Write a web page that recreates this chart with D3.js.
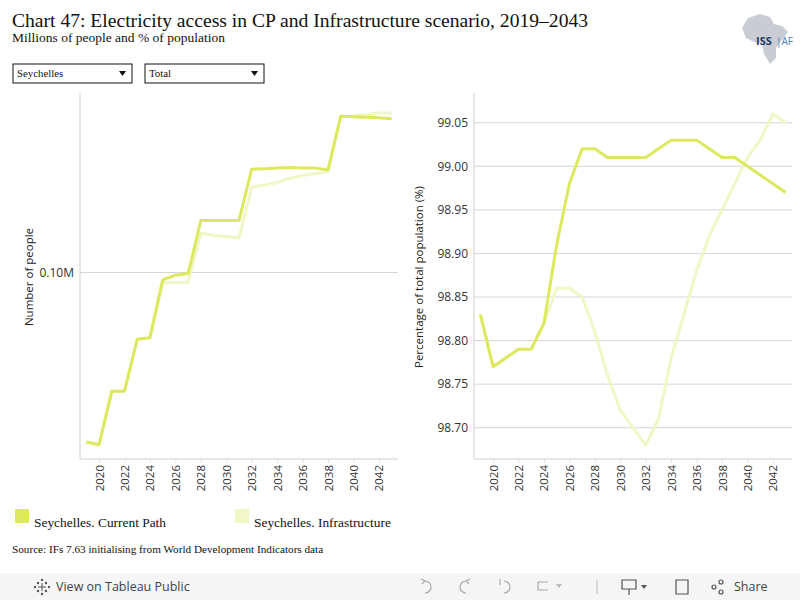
<!DOCTYPE html>
<html>
<head>
<meta charset="utf-8">
<script src="https://cdn.jsdelivr.net/npm/d3@7"></script>
<style>
  body { margin: 0; background: #fff; }
  svg { display: block; }
</style>
</head>
<body>
<svg id="chart" width="800" height="600"></svg>
<script>
// years and series
var years = d3.range(2019, 2044);
var yearTicks = [2020, 2022, 2024, 2026, 2028, 2030, 2032, 2034, 2036, 2038, 2040, 2042];

// number of people with electricity (millions)
var peopleCP = [0.09680, 0.09675, 0.09776, 0.09776, 0.09874, 0.09877, 0.09986, 0.09995, 0.09998,
    0.10098, 0.10098, 0.10098, 0.10098, 0.10195, 0.10196, 0.10197, 0.10198, 0.10197, 0.10197,
    0.10194, 0.10295, 0.10294, 0.10293, 0.10292, 0.10290];
var peopleInfra = [0.09680, 0.09675, 0.09776, 0.09776, 0.09874, 0.09877, 0.09981, 0.09981, 0.09981,
    0.10074, 0.10070, 0.10068, 0.10065, 0.10161, 0.10165, 0.10170, 0.10178, 0.10183, 0.10187,
    0.10190, 0.10295, 0.10296, 0.10298, 0.10301, 0.10301];

// percentage of total population
var pctCP = [98.83, 98.77, 98.78, 98.79, 98.79, 98.82, 98.91, 98.98, 99.02, 99.02, 99.01, 99.01,
    99.01, 99.01, 99.02, 99.03, 99.03, 99.03, 99.02, 99.01, 99.01, 99.00, 98.99, 98.98, 98.97];
var pctInfra = [98.83, 98.77, 98.78, 98.79, 98.79, 98.82, 98.86, 98.86, 98.85, 98.81, 98.76, 98.72,
    98.70, 98.68, 98.71, 98.78, 98.83, 98.88, 98.92, 98.95, 98.98, 99.01, 99.03, 99.06, 99.05];
var pctTicks = [98.70, 98.75, 98.80, 98.85, 98.90, 98.95, 99.00, 99.05];

var seriesNames = ['Seychelles. Current Path', 'Seychelles. Infrastructure'];
var CP_COLOR = '#dee85e';
var INFRA_COLOR = '#f1f6c6';
var GRID = '#d6d6d6';
var SERIF = '"Liberation Serif", "Times New Roman", serif';
var SANS = '"Open Sans", "Noto Sans", sans-serif';

var svg = d3.select('#chart');

// ---- header ----
svg.append('text').attr('x', 12).attr('y', 27)
    .style('font-family', SERIF).style('font-size', '19.6px').attr('fill', '#111')
    .text('Chart 47: Electricity access in CP and Infrastructure scenario, 2019\u20132043');
svg.append('text').attr('x', 12).attr('y', 42)
    .style('font-family', SERIF).style('font-size', '13.5px').attr('fill', '#111')
    .text('Millions of people and % of population');

// logo (rough)
var logo = svg.append('g').attr('transform', 'translate(740,14)');
logo.append('path')
    .attr('d', 'M8,4 L20,0 L30,3 L34,10 L42,12 L48,18 L42,26 L36,34 L36,44 L30,50 L24,40 L22,30 L14,28 L6,24 L2,14 Z')
    .attr('fill', '#c9ccd2');
logo.append('text').attr('x', 16).attr('y', 31)
    .style('font-family', SANS).style('font-size', '11px').style('font-weight', 'bold')
    .attr('fill', '#1e3a6e').text('ISS');
logo.append('text').attr('x', 36).attr('y', 31)
    .style('font-family', SANS).style('font-size', '10px').attr('fill', '#4a7fc0').text('|AF');

// dropdowns
[['Seychelles', 13], ['Total', 145]].forEach(function (d) {
    var g = svg.append('g').attr('transform', 'translate(' + d[1] + ',64)');
    g.append('rect').attr('width', 119).attr('height', 19).attr('fill', '#fff')
        .attr('stroke', '#111').attr('stroke-width', 1);
    g.append('text').attr('x', 4).attr('y', 13)
        .style('font-family', SERIF).style('font-size', '10.8px').attr('fill', '#111').text(d[0]);
    g.append('path').attr('d', 'M106,7 L113,7 L109.5,12 Z').attr('fill', '#111');
});

// ---- panels ----
var plotTop = 95, plotBottom = 459;

function panel(opts) {
    var x = d3.scalePoint().domain(years).range([opts.x0, opts.x1]).padding(0.5);
    var y = d3.scaleLinear().domain(opts.domain).range([plotBottom, plotTop]);
    var g = svg.append('g');

    // gridlines
    g.selectAll('line.grid').data(opts.ticks).enter().append('line')
        .attr('x1', opts.x0).attr('x2', opts.x1)
        .attr('y1', function (d) { return y(d); }).attr('y2', function (d) { return y(d); })
        .attr('stroke', GRID).attr('stroke-width', 1);

    // axes
    var yAxis = d3.axisLeft(y).tickValues(opts.ticks).tickSize(0).tickPadding(6).tickFormat(opts.fmt);
    var ya = g.append('g').attr('transform', 'translate(' + opts.x0 + ',0)').call(yAxis);
    ya.select('.domain').remove();
    ya.selectAll('text').style('font-family', SANS).style('font-size', '12px').attr('fill', '#333');

    var xAxis = d3.axisBottom(x).tickValues(yearTicks).tickSize(4).tickPadding(4);
    var xa = g.append('g').attr('transform', 'translate(0,' + plotBottom + ')').call(xAxis);
    xa.select('.domain').remove();
    xa.selectAll('line').attr('stroke', '#e2e2e2');
    xa.selectAll('text')
        .attr('transform', 'rotate(-90)').attr('text-anchor', 'end')
        .attr('x', -6).attr('y', 0).attr('dy', '0.35em')
        .style('font-family', SANS).style('font-size', '11.5px').attr('fill', '#333');

    g.append('line').attr('x1', opts.x0).attr('x2', opts.x0).attr('y1', plotTop - 2).attr('y2', plotBottom)
        .attr('stroke', '#cfcfcf');
    g.append('line').attr('x1', opts.x0).attr('x2', opts.x1).attr('y1', plotBottom).attr('y2', plotBottom)
        .attr('stroke', '#cfcfcf');

    // axis title
    g.append('text')
        .attr('transform', 'translate(' + opts.titleX + ',' + ((plotTop + plotBottom) / 2) + ') rotate(-90)')
        .attr('text-anchor', 'middle')
        .style('font-family', SANS).style('font-size', '11.5px').attr('fill', '#222')
        .text(opts.title);

    var line = d3.line()
        .x(function (d, i) { return x(years[i]); })
        .y(function (d) { return y(d); });

    [[opts.infra, INFRA_COLOR], [opts.cp, CP_COLOR]].forEach(function (s) {
        g.append('path').datum(s[0]).attr('d', line)
            .attr('fill', 'none').attr('stroke', s[1]).attr('stroke-width', 3)
            .attr('stroke-linejoin', 'round');
    });
}

panel({
    x0: 80, x1: 398, domain: [0.09648, 0.10335],
    ticks: [0.1], fmt: function (d) { return d3.format('.2f')(d) + 'M'; },
    cp: peopleCP, infra: peopleInfra, title: 'Number of people', titleX: 33
});
panel({
    x0: 474, x1: 792, domain: [98.7 - (plotBottom - 427.7) / 871.4, 99.05 + (122.7 - plotTop) / 871.4],
    ticks: pctTicks, fmt: d3.format('.2f'),
    cp: pctCP, infra: pctInfra, title: 'Percentage of total population (%)', titleX: 423
});

// ---- legend ----
[[seriesNames[0], CP_COLOR, 15], [seriesNames[1], INFRA_COLOR, 235]].forEach(function (d) {
    svg.append('rect').attr('x', d[2]).attr('y', 509).attr('width', 14).attr('height', 14).attr('fill', d[1]);
    svg.append('text').attr('x', d[2] + 19).attr('y', 527)
        .style('font-family', SERIF).style('font-size', '13.4px').attr('fill', '#111').text(d[0]);
});

svg.append('text').attr('x', 12).attr('y', 553)
    .style('font-family', SERIF).style('font-size', '11.2px').attr('fill', '#111')
    .text('Source: IFs 7.63 initialising from World Development Indicators data');

// ---- toolbar ----
svg.append('rect').attr('x', 0).attr('y', 573).attr('width', 800).attr('height', 27).attr('fill', '#f5f5f5');
var tb = svg.append('g').attr('transform', 'translate(42,587)');
[[0, -7], [0, 7], [-7, 0], [7, 0], [-4, -4], [4, -4], [-4, 4], [4, 4]].forEach(function (p) {
    tb.append('circle').attr('cx', p[0]).attr('cy', p[1]).attr('r', 1.2).attr('fill', '#555');
});
tb.append('line').attr('x1', -4).attr('x2', 4).attr('y1', 0).attr('y2', 0).attr('stroke', '#555');
tb.append('line').attr('x1', 0).attr('x2', 0).attr('y1', -4).attr('y2', 4).attr('stroke', '#555');
svg.append('text').attr('x', 56).attr('y', 591)
    .style('font-family', SANS).style('font-size', '12.5px').attr('fill', '#444')
    .text('View on Tableau Public');

var icons = svg.append('g').attr('fill', 'none').attr('stroke', '#aaa').attr('stroke-width', 1.2);
icons.append('path').attr('d', 'M425,581 a6,6 0 1 1 0,12 M421,579 l4,2 l-3,3');
icons.append('path').attr('d', 'M466,581 a6,6 0 1 0 0,12 M470,579 l-4,2 l3,3');
icons.append('path').attr('d', 'M504,581 a6,6 0 1 1 0,12 M500,579 l0,6');
icons.append('path').attr('d', 'M548,582 h-10 v8 h10');
svg.append('path').attr('d', 'M556,584 l6,0 l-3,4 z').attr('fill', '#bbb');
svg.append('line').attr('x1', 597).attr('x2', 597).attr('y1', 580).attr('y2', 594).attr('stroke', '#bbb');
var dark = svg.append('g').attr('fill', 'none').attr('stroke', '#555').attr('stroke-width', 1.2);
dark.append('path').attr('d', 'M622,580 h14 v9 h-14 z M629,589 v6');
dark.append('path').attr('d', 'M676,580 h12 v14 h-12 z');
dark.append('circle').attr('cx', 714).attr('cy', 587).attr('r', 2);
dark.append('circle').attr('cx', 721).attr('cy', 582).attr('r', 2);
dark.append('circle').attr('cx', 721).attr('cy', 592).attr('r', 2);
svg.append('path').attr('d', 'M641,585 l6,0 l-3,4 z').attr('fill', '#555');
svg.append('text').attr('x', 734).attr('y', 591)
    .style('font-family', SANS).style('font-size', '12.5px').attr('fill', '#444').text('Share');
</script>
</body>
</html>
